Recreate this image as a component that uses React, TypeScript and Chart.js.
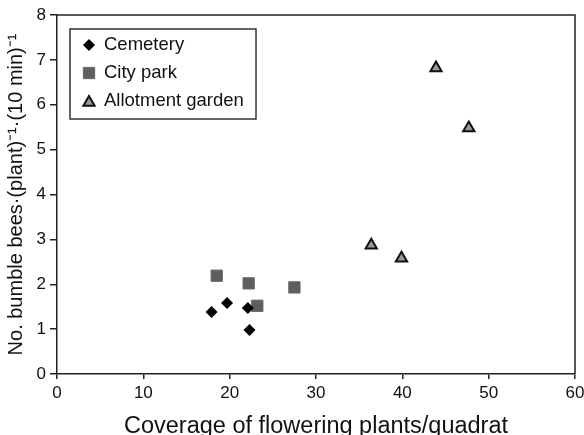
import React, { useEffect, useRef } from "react";
import { Chart, registerables } from "chart.js";

Chart.register(...registerables);

const seriesNames = ["Cemetery", "City park", "Allotment garden"];
const cemeteryX = [17.9, 19.7, 22.1, 22.3];
const cemeteryY = [1.38, 1.58, 1.47, 0.98];
const parkX = [18.5, 22.2, 23.2, 27.5];
const parkY = [2.19, 2.02, 1.52, 1.93];
const allotX = [36.4, 39.9, 43.9, 47.7];
const allotY = [2.87, 2.58, 6.82, 5.48];
const xTicks = [0, 10, 20, 30, 40, 50, 60];
const yTicks = [0, 1, 2, 3, 4, 5, 6, 7, 8];
const xTitle = "Coverage of flowering plants/quadrat";
const yTitle = "No. bumble bees\u00b7(plant)\u207b\u00b9\u00b7(10 min)\u207b\u00b9";

const FONT = "'Liberation Sans', Arial, Helvetica, sans-serif";
const AXIS = "#222";

const toPts = (xs: number[], ys: number[]) => xs.map((x, i) => ({ x, y: ys[i] }));

const frameAndLegend = {
  id: "frameAndLegend",
  afterDraw(chart: any) {
    const { ctx, chartArea } = chart;
    ctx.save();
    ctx.strokeStyle = AXIS;
    ctx.lineWidth = 1.5;
    ctx.beginPath();
    ctx.moveTo(chartArea.left, chartArea.top);
    ctx.lineTo(chartArea.right, chartArea.top);
    ctx.lineTo(chartArea.right, chartArea.bottom);
    ctx.stroke();

    // legend box
    const bx = 70, by = 29, bw = 186, bh = 90;
    ctx.lineWidth = 1.5;
    ctx.strokeStyle = "#333";
    ctx.fillStyle = "#fff";
    ctx.fillRect(bx, by, bw, bh);
    ctx.strokeRect(bx, by, bw, bh);
    const rows = [45, 73, 101];
    chart.data.datasets.forEach((ds: any, i: number) => {
      const y = rows[i];
      const x = 89;
      ctx.save();
      ctx.fillStyle = ds.pointBackgroundColor;
      ctx.strokeStyle = ds.pointBorderColor;
      ctx.lineWidth = ds.pointBorderWidth;
      const r = ds.pointRadius;
      ctx.beginPath();
      if (ds.pointStyle === "rectRot") {
        ctx.moveTo(x - r, y);
        ctx.lineTo(x, y - r);
        ctx.lineTo(x + r, y);
        ctx.lineTo(x, y + r);
        ctx.closePath();
      } else if (ds.pointStyle === "rect") {
        const s = r * Math.SQRT1_2;
        ctx.rect(x - s, y - s, 2 * s, 2 * s);
      } else {
        const yc = y + 1.5;
        ctx.moveTo(x, yc - r);
        ctx.lineTo(x + Math.sin((2 * Math.PI) / 3) * r, yc + 0.5 * r);
        ctx.lineTo(x - Math.sin((2 * Math.PI) / 3) * r, yc + 0.5 * r);
        ctx.closePath();
      }
      ctx.fill();
      if (ds.pointBorderWidth > 0) ctx.stroke();
      ctx.restore();
      ctx.fillStyle = "#111";
      ctx.font = `18.5px ${FONT}`;
      ctx.textBaseline = "middle";
      ctx.textAlign = "left";
      ctx.fillText(ds.label, 104, y);
    });
    ctx.restore();
  },
};

export default function App() {
  const ref = useRef<HTMLCanvasElement>(null);
  useEffect(() => {
    if (!ref.current) return;
    const chart = new Chart(ref.current, {
      type: "scatter",
      data: {
        datasets: [
          {
            label: seriesNames[0],
            data: toPts(cemeteryX, cemeteryY),
            pointStyle: "rectRot",
            pointRadius: 6,
            pointHoverRadius: 6,
            pointBackgroundColor: "#000",
            pointBorderColor: "#000",
            pointBorderWidth: 0,
          },
          {
            label: seriesNames[1],
            data: toPts(parkX, parkY),
            pointStyle: "rect",
            pointRadius: 8,
            pointHoverRadius: 8,
            pointBackgroundColor: "#5e5e5e",
            pointBorderColor: "#6a6a6a",
            pointBorderWidth: 1,
          },
          {
            label: seriesNames[2],
            data: toPts(allotX, allotY),
            pointStyle: "triangle",
            pointRadius: 6.5,
            pointHoverRadius: 6.5,
            pointBackgroundColor: "#9a9a9a",
            pointBorderColor: "#111",
            pointBorderWidth: 2,
          },
        ] as any,
      },
      options: {
        animation: false,
        responsive: false,
        layout: { padding: { top: 15, right: 7, left: 0, bottom: 0 } },
        plugins: { legend: { display: false }, tooltip: { enabled: false } },
        scales: {
          x: {
            type: "linear",
            min: 0,
            max: 60,
            afterBuildTicks: (s: any) => {
              s.ticks = xTicks.map((v) => ({ value: v }));
            },
            afterFit: (s: any) => {
              s.height = 61;
              s.paddingLeft = 0;
              s.paddingRight = 0;
            },
            ticks: {
              color: "#111",
              font: { family: FONT, size: 17 },
              padding: 4,
              maxRotation: 0,
              autoSkip: false,
            },
            grid: {
              display: true,
              drawOnChartArea: false,
              drawTicks: true,
              tickLength: 5,
              color: AXIS,
              lineWidth: 1.5,
            },
            border: { display: true, color: AXIS, width: 1.5 },
            title: {
              display: true,
              text: xTitle,
              color: "#111",
              font: { family: FONT, size: 23.5 },
              padding: { top: 0, bottom: -5.5 },
            },
          },
          y: {
            type: "linear",
            min: 0,
            max: 8,
            afterBuildTicks: (s: any) => {
              s.ticks = yTicks.map((v) => ({ value: v }));
            },
            afterFit: (s: any) => {
              s.width = 57;
              s.paddingTop = 0;
              s.paddingBottom = 0;
            },
            ticks: {
              color: "#111",
              font: { family: FONT, size: 17 },
              padding: 4,
              autoSkip: false,
            },
            grid: {
              display: true,
              drawOnChartArea: false,
              drawTicks: true,
              tickLength: 7,
              color: AXIS,
              lineWidth: 1.5,
            },
            border: { display: true, color: AXIS, width: 1.5 },
            title: {
              display: true,
              text: yTitle,
              color: "#111",
              font: { family: FONT, size: 20 },
              padding: { top: 4, bottom: 0 },
            },
          },
        },
      },
      plugins: [frameAndLegend],
    });
    return () => chart.destroy();
  }, []);
  return (
    <div style={{ position: "absolute", left: 0, top: 0, width: 584, height: 435 }}>
      <canvas ref={ref} width={584} height={435} />
    </div>
  );
}
